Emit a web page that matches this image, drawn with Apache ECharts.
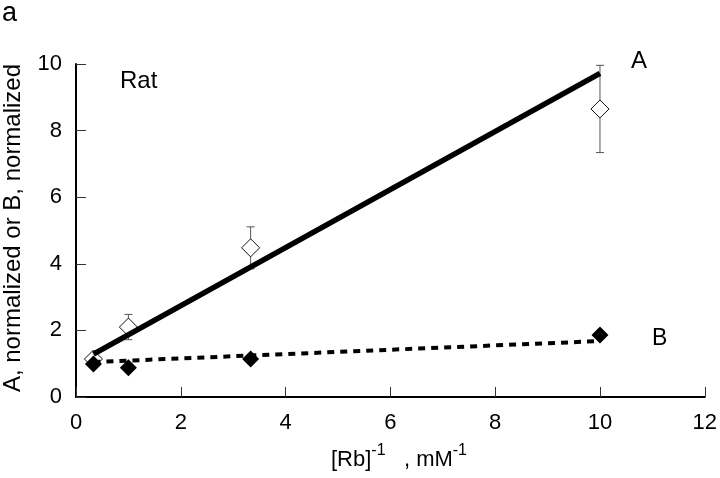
<!DOCTYPE html>
<html><head><meta charset="utf-8">
<script src="https://cdn.jsdelivr.net/npm/echarts@6/dist/echarts.min.js"></script>
<style>html,body{margin:0;padding:0;background:#fff}#c{width:720px;height:478px}</style>
</head><body><div id="c"></div>
<script>
// Data
const xValues = [0.333, 1, 3.333, 10];
const seriesA = [1.14, 2.1, 4.48, 8.65];
const errA = [0.12, 0.38, 0.63, 1.31];
const seriesB = [0.99, 0.88, 1.14, 1.86];
const fitA = [[0.333, 1.29], [10, 9.72]];
const fitB = [[0.333, 1.05], [10, 1.68]];
const xTicks = [0, 2, 4, 6, 8, 10, 12];
const yTicks = [0, 2, 4, 6, 8, 10];

const F = 'Liberation Sans, Arial, sans-serif';
const chart = echarts.init(document.getElementById('c'));
const ptsA = xValues.map((x, i) => [x, seriesA[i]]);
const ptsB = xValues.map((x, i) => [x, seriesB[i]]);
const errData = xValues.map((x, i) => [x, seriesA[i] - errA[i], seriesA[i] + errA[i]]);

chart.setOption({
  backgroundColor: '#fff',
  animation: false,
  grid: { left: 76, right: 14, top: 64, bottom: 81 },
  xAxis: {
    type: 'value', min: xTicks[0], max: xTicks[xTicks.length - 1], interval: 2,
    axisLine: { lineStyle: { color: '#000', width: 2 } },
    axisTick: { inside: true, length: 10, lineStyle: { color: '#333', width: 1 } },
    axisLabel: { fontFamily: F, fontSize: 22, color: '#000', margin: 15 },
    splitLine: { show: false }
  },
  yAxis: {
    type: 'value', min: yTicks[0], max: yTicks[yTicks.length - 1], interval: 2,
    axisLine: { show: true, lineStyle: { color: '#000', width: 2 } },
    axisTick: { show: true, inside: true, length: 10, lineStyle: { color: '#333', width: 1 } },
    axisLabel: { fontFamily: F, fontSize: 22, color: '#000', margin: 14 },
    splitLine: { show: false }
  },
  graphic: [
    { type: 'text', left: 2, top: 0, style: { text: 'a', font: '27px ' + F, fill: '#000' } },
    { type: 'text', left: 120, top: 69, style: { text: 'Rat', font: '24px ' + F, fill: '#000' } },
    { type: 'text', left: 631, top: 49, style: { text: 'A', font: '24px ' + F, fill: '#000' } },
    { type: 'text', left: 652, top: 327, style: { text: 'B', font: '23px ' + F, fill: '#000' } },
    { type: 'text', x: 13, y: 228, rotation: Math.PI / 2,
      style: { text: 'A, normalized or B, normalized', font: '24px ' + F, fill: '#000', align: 'center', verticalAlign: 'middle' } },
    { type: 'text', left: 331, top: 443,
      style: { rich: {
        n: { fontFamily: F, fontSize: 22, color: '#000', lineHeight: 28, verticalAlign: 'bottom' },
        s: { fontFamily: F, fontSize: 16, color: '#000', lineHeight: 28, verticalAlign: 'top' }
      }, text: '{n|[Rb]}{s|-1}{n|   , mM}{s|-1}' } }
  ],
  series: [
    {
      type: 'custom', z: 1,
      renderItem: function (params, api) {
        const x = api.coord([api.value(0), 0])[0];
        const lo = api.coord([api.value(0), api.value(1)])[1];
        const hi = api.coord([api.value(0), api.value(2)])[1];
        const w = 4;
        const st = { stroke: '#555', lineWidth: 1 };
        return { type: 'group', children: [
          { type: 'line', shape: { x1: x, y1: lo, x2: x, y2: hi }, style: st },
          { type: 'line', shape: { x1: x - w, y1: lo, x2: x + w, y2: lo }, style: st },
          { type: 'line', shape: { x1: x - w, y1: hi, x2: x + w, y2: hi }, style: st }
        ] };
      },
      data: errData
    },
    {
      type: 'scatter', z: 2, data: ptsA, symbol: 'diamond', symbolSize: 18,
      itemStyle: { color: '#fff', borderColor: '#111', borderWidth: 1, opacity: 1 }
    },
    {
      type: 'line', z: 3, data: fitA, showSymbol: false, symbol: 'none',
      lineStyle: { color: '#000', width: 5.5, cap: 'butt' }
    },
    {
      type: 'line', z: 3, data: fitB, showSymbol: false, symbol: 'none',
      lineStyle: { color: '#000', width: 4, type: [7, 6] }
    },
    {
      type: 'scatter', z: 4, data: ptsB, symbol: 'diamond', symbolSize: 17,
      itemStyle: { color: '#000', opacity: 1 }
    }
  ]
});
</script></body></html>
